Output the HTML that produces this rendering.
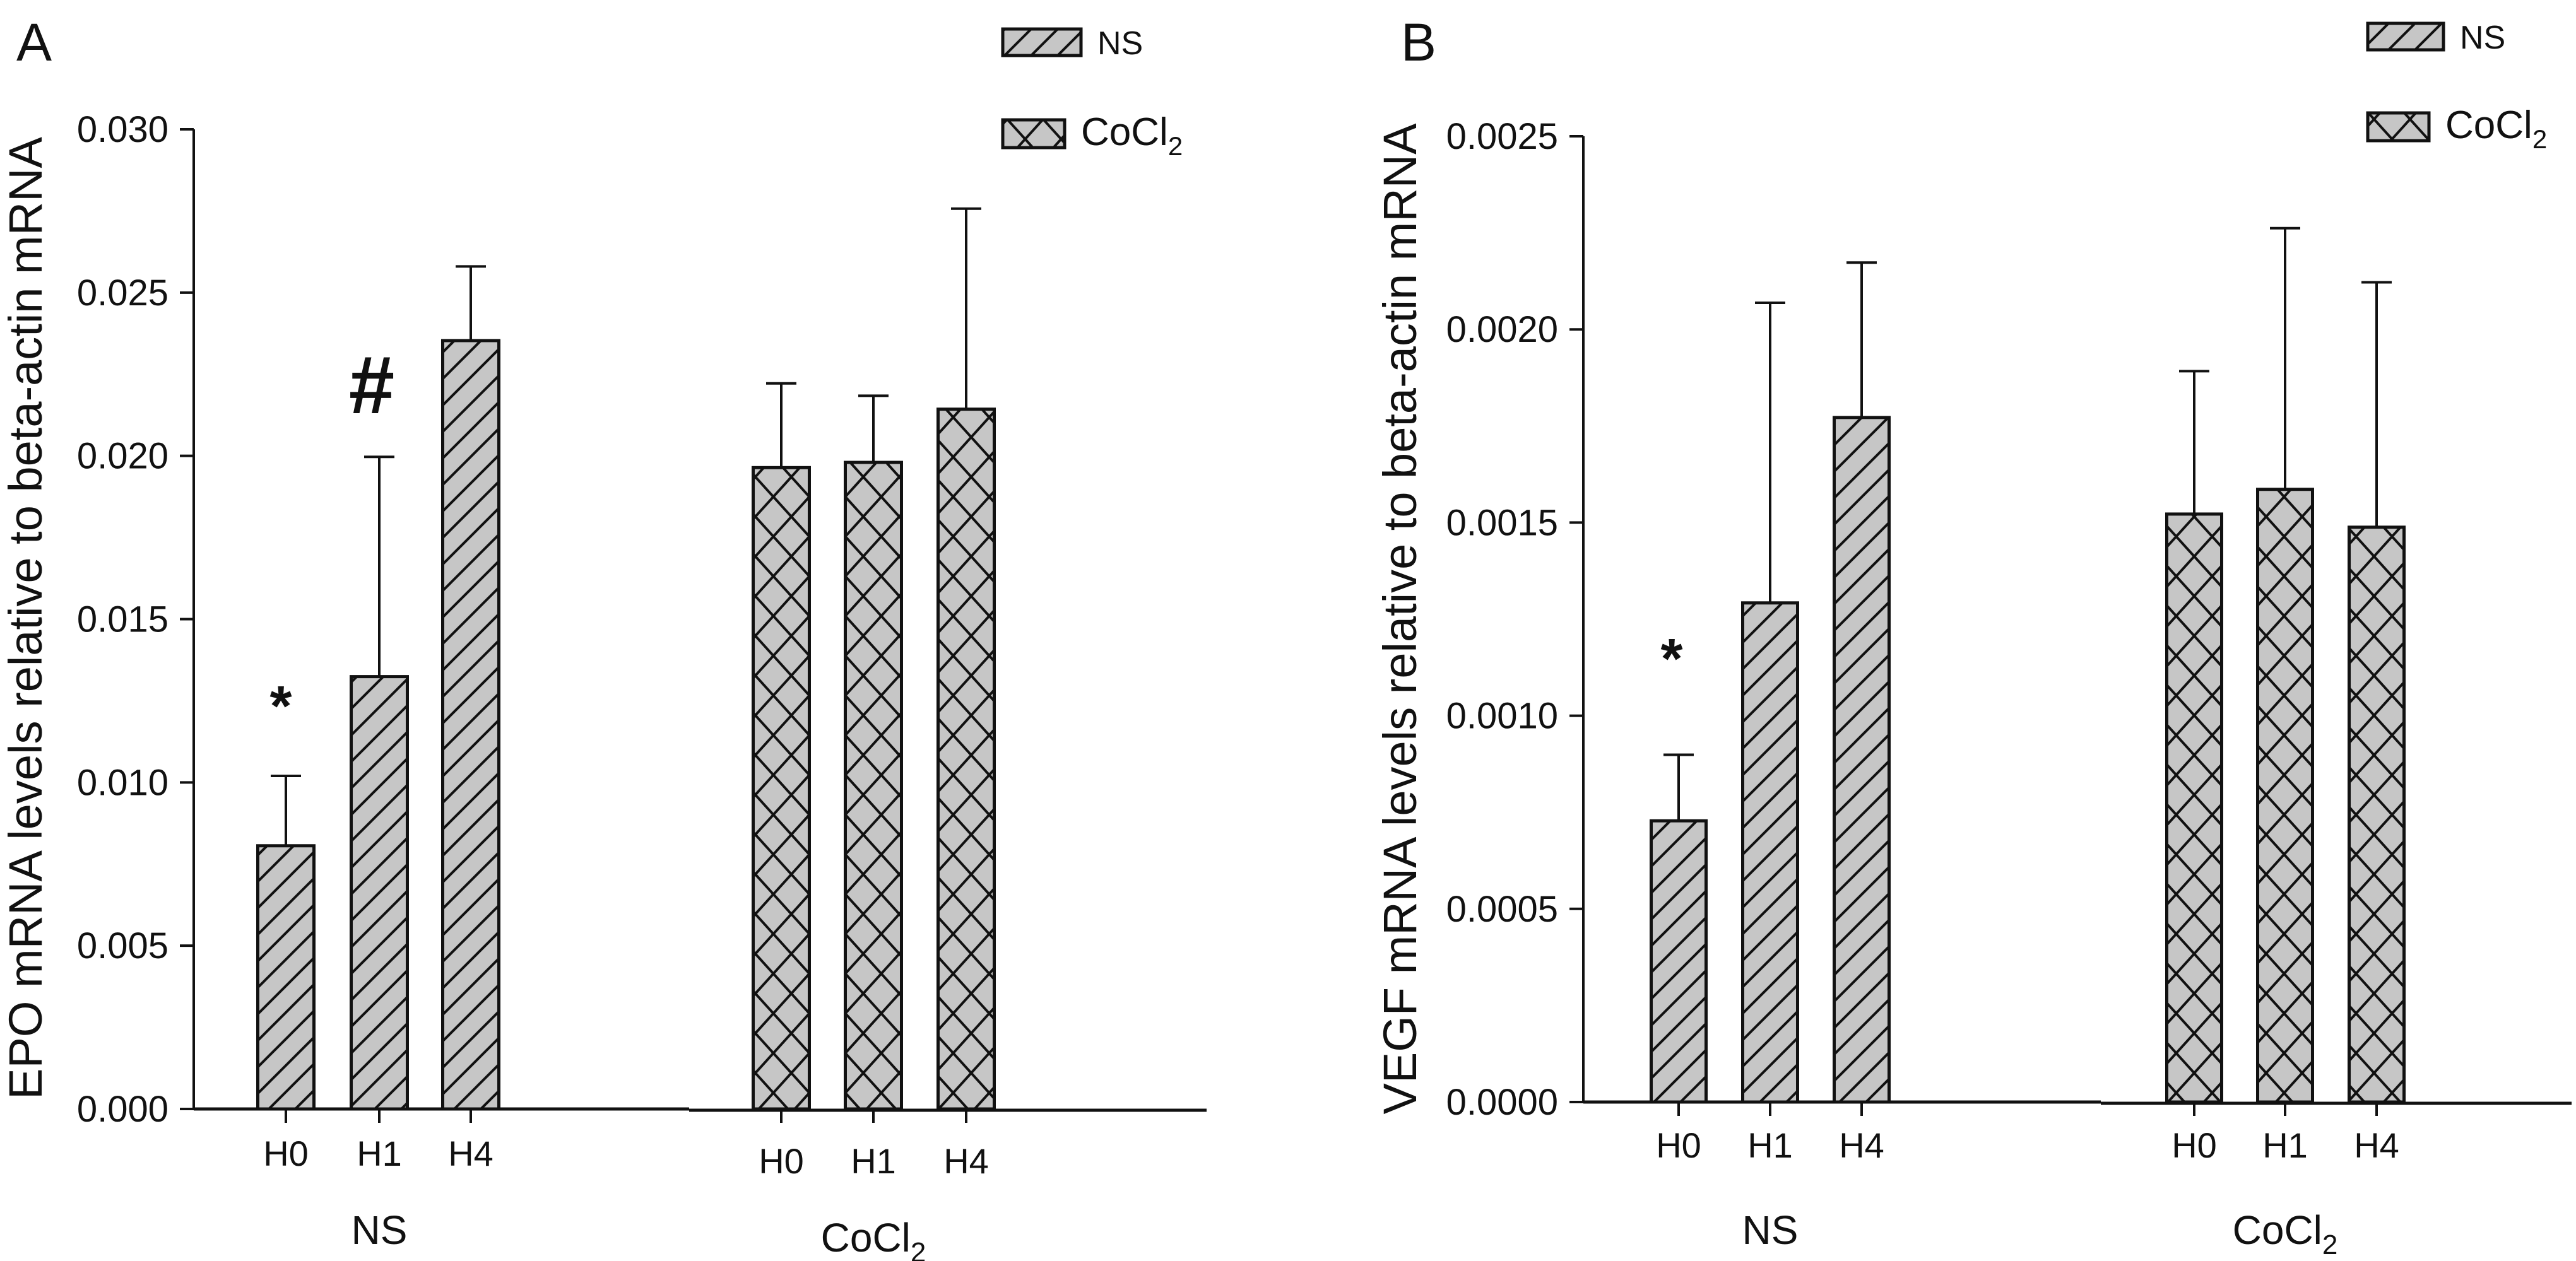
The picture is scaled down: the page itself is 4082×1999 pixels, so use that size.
<!DOCTYPE html>
<html><head><meta charset="utf-8"><style>
html,body{margin:0;padding:0;background:#fff;}
svg{display:block;font-family:"Liberation Sans",Arial,sans-serif;}
</style></head><body>
<svg id="fig" width="4082" height="1999" viewBox="0 0 4082 1999" xmlns="http://www.w3.org/2000/svg">
<defs>
<pattern id="diag" patternUnits="userSpaceOnUse" width="42" height="42">
<rect width="42" height="42" fill="#c6c6c6"/>
<path d="M-10,52 L52,-10 M-10,10 L10,-10 M32,52 L52,32" stroke="#111" stroke-width="4"/>
</pattern>
<pattern id="cross" patternUnits="userSpaceOnUse" width="57" height="63">
<rect width="57" height="63" fill="#c6c6c6"/>
<path d="M0,0 L57,63 M57,0 L0,63" stroke="#111" stroke-width="4"/>
</pattern>
</defs>
<g id="panelA"></g>
<g id="panelB"></g>
</svg>
<script>
const categories = ["H0","H1","H4"];
const groups = ["NS","CoCl2"];
const epoNS = [0.00806, 0.01324, 0.02353];
const epoNSerr = [0.0102, 0.01997, 0.0258];
const epoCo = [0.01964, 0.0198, 0.02143];
const epoCoerr = [0.02222, 0.02184, 0.02757];
const epoTicks = ["0.000","0.005","0.010","0.015","0.020","0.025","0.030"];
const vegfNS = [0.000728, 0.001292, 0.001772];
const vegfNSerr = [0.000899, 0.002069, 0.002173];
const vegfCo = [0.001522, 0.001586, 0.001488];
const vegfCoerr = [0.001892, 0.002262, 0.002122];
const vegfTicks = ["0.0000","0.0005","0.0010","0.0015","0.0020","0.0025"];

const NS="http://www.w3.org/2000/svg";
function mk(parent, tag, attrs, text){
  const e=document.createElementNS(NS,tag);
  for(const k in attrs) e.setAttribute(k,attrs[k]);
  if(text!==undefined) e.textContent=text;
  parent.appendChild(e); return e;
}
function panel(g, cfg){
  const y = v => cfg.y0 - (v/cfg.max)*(cfg.y0-cfg.yTop);
  let ax=mk(g,'line',{x1:cfg.ax,y1:cfg.yTop,x2:cfg.ax,y2:cfg.y0,stroke:'#111','stroke-width':4});
  
  
  cfg.ticks.forEach((t,i)=>{
    const v = parseFloat(t); const yy=y(v);
    let tk=mk(g,'line',{x1:cfg.ax-22,y1:yy,x2:cfg.ax,y2:yy,stroke:'#111','stroke-width':4});
    
    
    let tl=mk(g,'text',{x:cfg.ax-40,y:yy+20,'font-size':58,'text-anchor':'end',fill:'#111'},t);
    
    
  });
  let xa=mk(g,'line',{x1:cfg.ax,y1:cfg.y0,x2:cfg.split,y2:cfg.y0,stroke:'#111','stroke-width':5});
  
  
  let xb=mk(g,'line',{x1:cfg.split,y1:cfg.y0+2,x2:cfg.xEnd,y2:cfg.y0+2,stroke:'#111','stroke-width':5});
  
  
  const sets=[[cfg.ns,cfg.nsErr,cfg.nsX,'url(#diag)',0],[cfg.co,cfg.coErr,cfg.coX,'url(#cross)',1]];
  sets.forEach(([vals,errs,xs,fill,gi])=>{
    vals.forEach((v,i)=>{
      const cx=xs[i], w=cfg.bw;
      const et=y(errs[i]);
      let el=mk(g,'line',{x1:cx,y1:y(v),x2:cx,y2:et,stroke:'#111','stroke-width':4});
      
      
      let ec=mk(g,'line',{x1:cx-24,y1:et,x2:cx+24,y2:et,stroke:'#111','stroke-width':4});
      
      
      let b=mk(g,'rect',{x:cx-w/2,y:y(v),width:w,height:cfg.y0-y(v),fill:fill,stroke:'#111','stroke-width':5});
      
      
      let t=mk(g,'line',{x1:cx,y1:cfg.y0,x2:cx,y2:cfg.y0+22,stroke:'#111','stroke-width':4});
      
      
      let cl=mk(g,'text',{x:cx,y:cfg.catY+(gi?cfg.coDY:0),'font-size':56,'text-anchor':'middle',fill:'#111'},categories[i]);
      
      
    });
  });
  let gl=mk(g,'text',{x:cfg.nsX[1],y:cfg.grpY,'font-size':64,'text-anchor':'middle',fill:'#111'},'NS');
  
  
  let gc=mk(g,'text',{x:cfg.coX[1],y:cfg.grpY+cfg.coGrpDY,'font-size':64,'text-anchor':'middle',fill:'#111'});
  
  
  gc.innerHTML='CoCl<tspan font-size="44" dy="16">2</tspan>';
  let yt=mk(g,'text',{x:0,y:0,'font-size':74,'text-anchor':'middle',fill:'#111',transform:`translate(${cfg.titleX},${cfg.titleY}) rotate(-90)`},cfg.title);
  
  
  let pl=mk(g,'text',{x:cfg.letterX,y:96,'font-size':84,fill:'#111'},cfg.letter);
  
  
  let l1=mk(g,'rect',{x:cfg.legX,y:cfg.leg1Y,width:cfg.leg1W,height:42,fill:'url(#diag)',stroke:'#111','stroke-width':5});
  
  
  let lt1=mk(g,'text',{x:cfg.legX+cfg.leg1W+26,y:cfg.leg1Y+40,'font-size':52,fill:'#111'},'NS');
  
  
  let l2=mk(g,'rect',{x:cfg.legX,y:cfg.leg2Y,width:cfg.leg2W,height:44,fill:'url(#cross)',stroke:'#111','stroke-width':5});
  
  
  let lt2=mk(g,'text',{x:cfg.legX+cfg.leg2W+26,y:cfg.leg2Y+40,'font-size':62,fill:'#111'});
  
  
  lt2.innerHTML='CoCl<tspan font-size="42" dy="16">2</tspan>';
  cfg.marks.forEach(m=>{
    let s=mk(g,'text',{x:m.x,y:m.y,'font-size':m.fs,'font-weight':'bold','text-anchor':'middle',fill:'#111'},m.t);
    
    
  });
}
panel(document.getElementById('panelA'),{
  ax:307,yTop:205,y0:1758,max:0.030,ticks:epoTicks,split:1092,xEnd:1912,
  ns:epoNS,nsErr:epoNSerr,co:epoCo,coErr:epoCoerr,
  nsX:[453,601,746],coX:[1238,1384,1531],bw:89,
  catY:1848,coDY:12,grpY:1972,coGrpDY:12,
  title:'EPO mRNA levels relative  to beta-actin mRNA',titleX:66,titleY:980,
  letter:'A',letterX:26,legX:1589,leg1Y:46,leg1W:124,leg2Y:190,leg2W:98,
  marks:[{x:445,y:1150,t:'*',fs:90},{x:589,y:655,t:'#',fs:130}]
});
panel(document.getElementById('panelB'),{
  ax:2509,yTop:216,y0:1747,max:0.0025,ticks:vegfTicks,split:3329,xEnd:4075,
  ns:vegfNS,nsErr:vegfNSerr,co:vegfCo,coErr:vegfCoerr,
  nsX:[2660,2805,2950],coX:[3477,3621,3766],bw:87,
  catY:1835,coDY:0,grpY:1972,coGrpDY:0,
  title:'VEGF mRNA levels relative to beta-actin mRNA',titleX:2244,titleY:981,
  letter:'B',letterX:2220,legX:3752,leg1Y:37,leg1W:120,leg2Y:179,leg2W:97,
  marks:[{x:2649,y:1075,t:'*',fs:90}]
});
</script>
</body></html>
